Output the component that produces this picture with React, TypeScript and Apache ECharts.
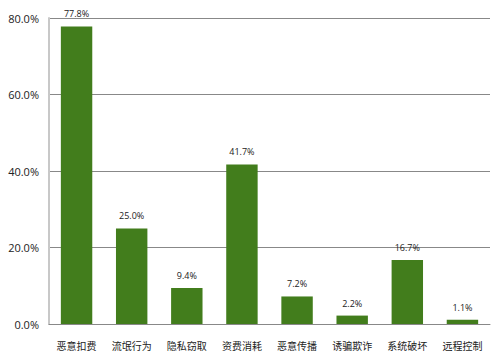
import React, { useEffect, useRef } from "react";
import * as echarts from "echarts";

const categories = ["恶意扣费", "流氓行为", "隐私窃取", "资费消耗", "恶意传播", "诱骗欺诈", "系统破坏", "远程控制"];
const values = [77.8, 25.0, 9.4, 41.7, 7.2, 2.2, 16.7, 1.1];

export default function App() {
  const ref = useRef<HTMLDivElement>(null);
  useEffect(() => {
    const chart = echarts.init(ref.current!, null, { renderer: "svg" });
    chart.setOption({
      animation: false,
      backgroundColor: "#ffffff",
      grid: { left: 49, right: 10, top: 18, bottom: 33, containLabel: false },
      xAxis: {
        type: "category",
        data: categories,
        axisLine: { show: true, lineStyle: { color: "#888888", width: 1 } },
        axisTick: { show: false },
        axisLabel: { interval: 0, color: "#222222", fontSize: 10, margin: 16, fontFamily: "Noto Sans CJK SC" },
      },
      yAxis: {
        type: "value",
        min: 0,
        max: 80,
        interval: 20,
        axisLine: { show: true, lineStyle: { color: "#c8c8c8", width: 2 } },
        axisTick: { show: false },
        splitLine: { lineStyle: { color: "#888888", width: 1 } },
        axisLabel: {
          color: "#222222",
          fontSize: 11,
          margin: 10,
          fontFamily: "Open Sans",
          formatter: (v: number) => v.toFixed(1) + "%",
        },
      },
      series: [
        {
          type: "bar",
          data: values,
          barWidth: "57%",
          itemStyle: { color: "#427d1c" },
          label: {
            show: true,
            position: "top",
            distance: 8,
            fontSize: 9,
            color: "#222222",
            fontFamily: "Open Sans",
            formatter: (p: any) => p.value.toFixed(1) + "%",
          },
        },
      ],
    });
    return () => chart.dispose();
  }, []);
  return <div ref={ref} style={{ position: "fixed", left: 0, top: 0, width: 500, height: 357 }} />;
}
